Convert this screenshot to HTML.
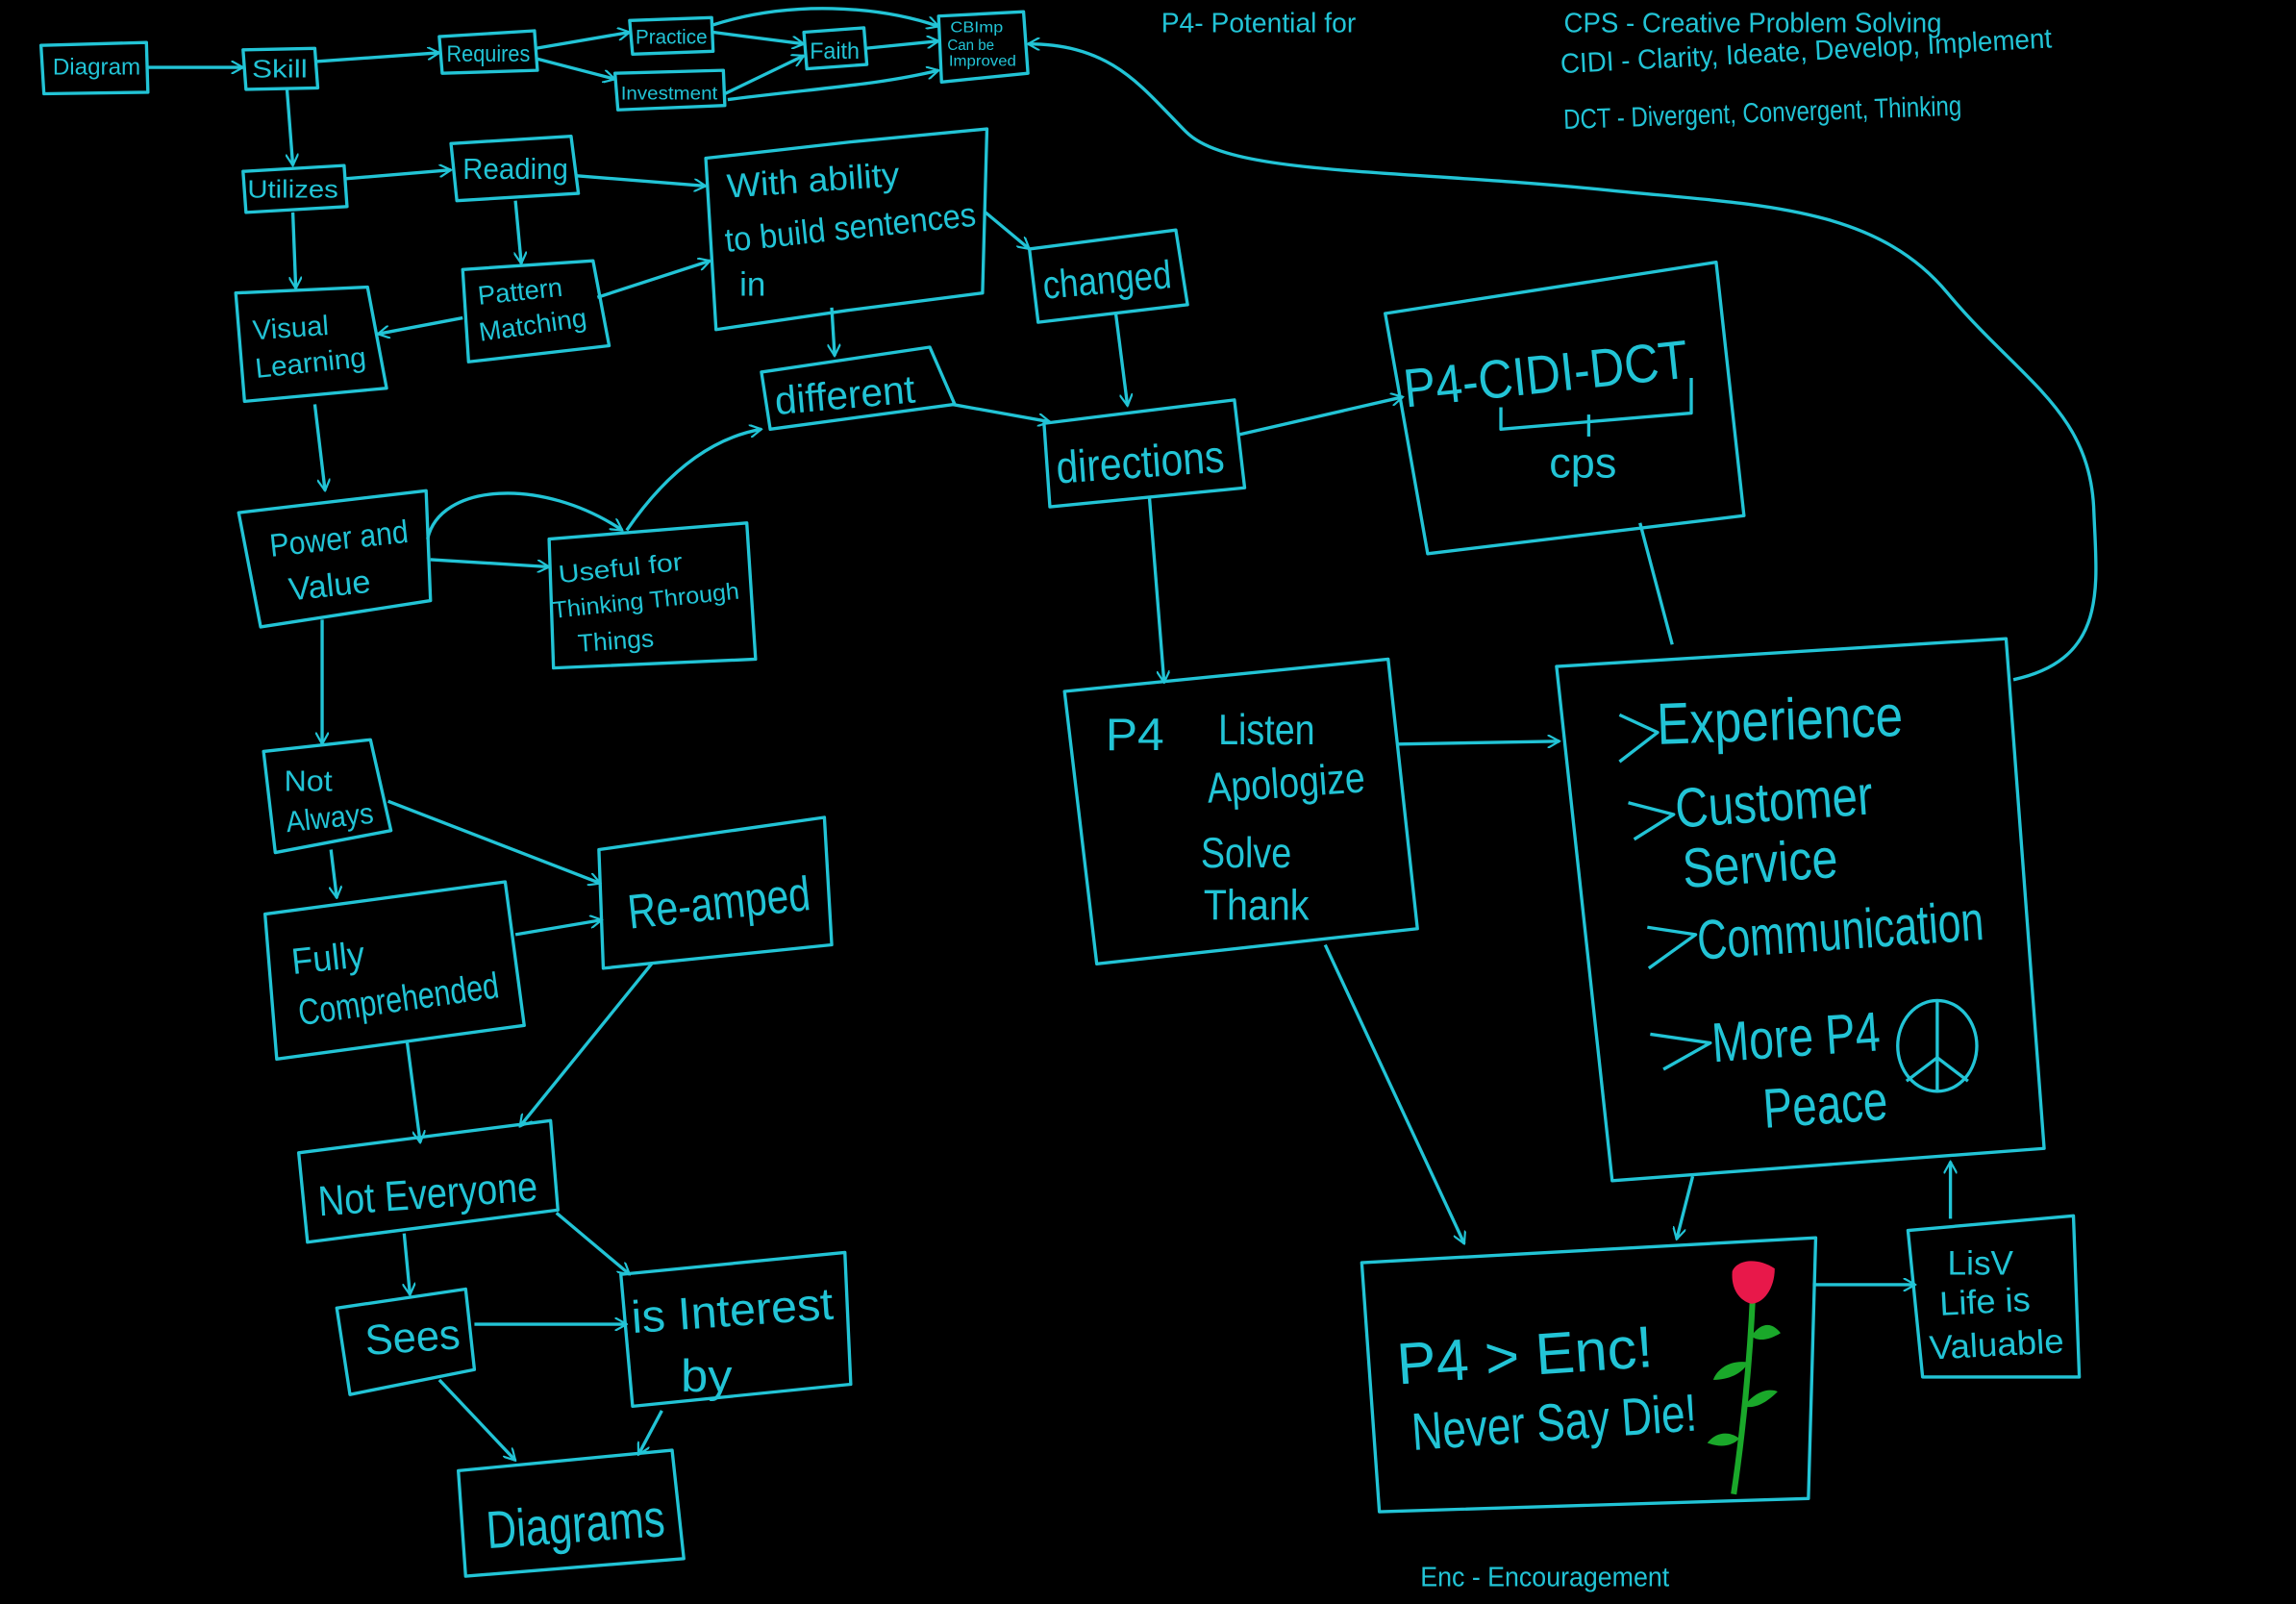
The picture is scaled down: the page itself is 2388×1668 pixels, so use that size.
<!DOCTYPE html>
<html><head><meta charset="utf-8">
<style>
html,body{margin:0;padding:0;background:#000;width:2388px;height:1668px;overflow:hidden}
svg{display:block}
text{font-family:"Liberation Sans",sans-serif;fill:#22c4d6}
</style></head><body>
<svg width="2388" height="1668" viewBox="0 0 1568 1095" preserveAspectRatio="none" xmlns="http://www.w3.org/2000/svg">
<defs>
<marker id="a" viewBox="0 0 10 10" refX="9" refY="5" markerWidth="9" markerHeight="9" orient="auto" markerUnits="userSpaceOnUse">
<path d="M0,0 L9,5 L0,10" fill="none" stroke="#22c4d6" stroke-width="1.6"/>
</marker>
</defs>
<rect width="1568" height="1095" fill="#000"/>
<g fill="none" stroke="#22c4d6" stroke-width="2.2" stroke-linejoin="round">
<polygon points="28,31 100,29 101,63 30,64"/>
<polygon points="166,34 215,33 217,60 168,61"/>
<polygon points="300,25 365,21 367,48 302,50"/>
<polygon points="430,14 486,12 487,35 432,37"/>
<polygon points="420,50 494,48 495,72 422,75"/>
<polygon points="549,22 590,19 592,44 551,47"/>
<polygon points="641,11 699,8 702,50 643,56"/>
<polygon points="166,117 235,113 237,141 168,145"/>
<polygon points="308,98 390,93 395,132 312,137"/>
<polygon points="482,108 580,97 674,88 671,200 578,212 489,225"/>
<polygon points="316,184 405,178 416,236 320,247"/>
<polygon points="161,200 251,196 264,265 167,274"/>
<polygon points="703,170 803,157 811,208 709,220"/>
<polygon points="520,254 635,237 652,276 526,293"/>
<polygon points="713,289 843,273 850,333 717,346"/>
<polygon points="946,214 1172,179 1191,352 975,378"/>
<polyline points="1025,278 1025,293 1155,282 1155,258"/>
<line x1="1085" y1="283" x2="1085" y2="298"/>
<polygon points="163,350 291,335 294,410 178,428"/>
<polygon points="375,368 510,357 516,450 378,456"/>
<polygon points="727,472 948,450 968,634 749,658"/>
<polygon points="1063,455 1370,436 1396,784 1101,806"/>
<polygon points="180,513 253,505 267,567 188,582"/>
<polygon points="409,580 563,558 568,645 412,661"/>
<polygon points="181,624 345,602 358,700 189,723"/>
<polygon points="204,787 376,765 381,826 210,848"/>
<polygon points="230,893 318,880 324,935 239,952"/>
<polygon points="424,870 577,855 581,945 432,960"/>
<polygon points="313,1004 459,990 467,1064 318,1076"/>
<polygon points="930,862 1240,845 1235,1023 942,1032"/>
<polygon points="1303,840 1416,830 1420,940 1313,940"/>
<g marker-end="url(#a)">
<line x1="101" y1="46" x2="166" y2="46"/>
<line x1="216" y1="42" x2="300" y2="36"/>
<line x1="366" y1="33" x2="430" y2="22"/>
<line x1="366" y1="40" x2="420" y2="54"/>
<line x1="487" y1="22" x2="549" y2="30"/>
<line x1="495" y1="64" x2="549" y2="38"/>
<path d="M487,17 C540,0 600,4 641,18"/>
<line x1="591" y1="33" x2="641" y2="28"/>
<path d="M497,68 C560,60 600,58 641,48"/>
<line x1="196" y1="61" x2="200" y2="113"/>
<line x1="236" y1="122" x2="308" y2="116"/>
<line x1="394" y1="120" x2="482" y2="127"/>
<line x1="352" y1="137" x2="356" y2="180"/>
<line x1="200" y1="145" x2="202" y2="197"/>
<line x1="316" y1="217" x2="258" y2="228"/>
<line x1="408" y1="203" x2="485" y2="178"/>
<line x1="673" y1="145" x2="703" y2="170"/>
<line x1="568" y1="210" x2="570" y2="243"/>
<line x1="762" y1="214" x2="770" y2="277"/>
<line x1="650" y1="276" x2="717" y2="288"/>
<line x1="845" y1="297" x2="958" y2="271"/>
<line x1="215" y1="276" x2="222" y2="335"/>
<line x1="294" y1="382" x2="375" y2="387"/>
<path d="M292,368 C300,330 370,325 425,362"/>
<path d="M428,362 C450,330 480,300 520,293"/>
<line x1="220" y1="423" x2="220" y2="508"/>
<line x1="785" y1="340" x2="795" y2="466"/>
<line x1="955" y1="508" x2="1065" y2="506"/>
<line x1="265" y1="547" x2="410" y2="603"/>
<line x1="226" y1="580" x2="230" y2="613"/>
<line x1="352" y1="638" x2="411" y2="628"/>
<line x1="445" y1="658" x2="355" y2="769"/>
<line x1="278" y1="711" x2="287" y2="780"/>
<line x1="276" y1="842" x2="280" y2="884"/>
<line x1="380" y1="828" x2="430" y2="870"/>
<line x1="324" y1="904" x2="428" y2="904"/>
<line x1="300" y1="942" x2="352" y2="997"/>
<line x1="452" y1="963" x2="436" y2="993"/>
<line x1="905" y1="645" x2="1000" y2="849"/>
<line x1="1156" y1="803" x2="1145" y2="846"/>
<line x1="1238" y1="877" x2="1308" y2="877"/>
<line x1="1332" y1="832" x2="1332" y2="793"/>
<path d="M1375,464 C1440,450 1432,400 1430,350 C1428,280 1380,260 1330,200 C1280,140 1200,140 1100,130 C950,115 840,120 810,90 C780,60 760,30 702,30"/>
</g>
<line x1="1120" y1="357" x2="1142" y2="440"/>
<ellipse cx="1323" cy="714" rx="27" ry="31"/>
<line x1="1323" y1="684" x2="1323" y2="745"/>
<line x1="1323" y1="722" x2="1302" y2="738"/>
<line x1="1323" y1="722" x2="1344" y2="738"/>
<polyline points="1106,488 1132,500 1106,520"/>
<polyline points="1112,548 1143,556 1116,573"/>
<polyline points="1125,633 1158,638 1126,661"/>
<polyline points="1127,706 1168,712 1136,730"/>
</g>
<g>
<path d="M1197,885 C1195,930 1190,980 1184,1020" stroke="#1aa82a" stroke-width="4" fill="none"/>
<path d="M1196,912 C1205,900 1212,905 1216,910 C1208,915 1200,916 1196,912Z" fill="#1aa82a"/>
<path d="M1194,930 C1180,928 1172,936 1170,942 C1180,942 1190,938 1194,930Z" fill="#1aa82a"/>
<path d="M1191,960 C1200,948 1210,948 1214,950 C1206,958 1198,962 1191,960Z" fill="#1aa82a"/>
<path d="M1188,982 C1178,975 1170,980 1166,985 C1174,988 1182,988 1188,982Z" fill="#1aa82a"/>
<path d="M1183,868 C1186,860 1200,858 1212,866 C1212,880 1204,890 1196,890 C1188,888 1182,880 1183,868Z" fill="#e8184a"/>
</g>
<g lengthAdjust="spacingAndGlyphs">
<text x="36" y="51" font-size="16" textLength="60" lengthAdjust="spacingAndGlyphs">Diagram</text>
<text x="172" y="53" font-size="17" textLength="38" lengthAdjust="spacingAndGlyphs">Skill</text>
<text x="305" y="42" font-size="16" textLength="57" lengthAdjust="spacingAndGlyphs">Requires</text>
<text x="434" y="30" font-size="14" textLength="49" lengthAdjust="spacingAndGlyphs">Practice</text>
<text x="424" y="68" font-size="13" textLength="66" lengthAdjust="spacingAndGlyphs">Investment</text>
<text x="553" y="40" font-size="16" textLength="34" lengthAdjust="spacingAndGlyphs">Faith</text>
<text x="649" y="22" font-size="10" textLength="36" lengthAdjust="spacingAndGlyphs">CBImp</text>
<text x="647" y="34" font-size="10" textLength="32" lengthAdjust="spacingAndGlyphs">Can be</text>
<text x="648" y="45" font-size="10" textLength="46" lengthAdjust="spacingAndGlyphs">Improved</text>
<text x="169" y="135" font-size="17" textLength="62" lengthAdjust="spacingAndGlyphs">Utilizes</text>
<text x="316" y="122" font-size="20" textLength="72" lengthAdjust="spacingAndGlyphs">Reading</text>
<text x="497" y="135" font-size="23" textLength="118" lengthAdjust="spacingAndGlyphs" transform="rotate(-4 497 135)">With ability</text>
<text x="496" y="172" font-size="23" textLength="172" lengthAdjust="spacingAndGlyphs" transform="rotate(-6 496 172)">to build sentences</text>
<text x="505" y="202" font-size="23">in</text>
<text x="327" y="208" font-size="18" textLength="58" lengthAdjust="spacingAndGlyphs" transform="rotate(-6 327 208)">Pattern</text>
<text x="328" y="233" font-size="18" textLength="74" lengthAdjust="spacingAndGlyphs" transform="rotate(-8 328 233)">Matching</text>
<text x="173" y="232" font-size="19" textLength="52" lengthAdjust="spacingAndGlyphs" transform="rotate(-4 173 232)">Visual</text>
<text x="175" y="258" font-size="19" textLength="76" lengthAdjust="spacingAndGlyphs" transform="rotate(-6 175 258)">Learning</text>
<text x="713" y="204" font-size="27" textLength="88" lengthAdjust="spacingAndGlyphs" transform="rotate(-5 713 204)">changed</text>
<text x="530" y="283" font-size="27" textLength="96" lengthAdjust="spacingAndGlyphs" transform="rotate(-5 530 283)">different</text>
<text x="722" y="330" font-size="31" textLength="115" lengthAdjust="spacingAndGlyphs" transform="rotate(-4 722 330)">directions</text>
<text x="960" y="278" font-size="37" textLength="195" lengthAdjust="spacingAndGlyphs" transform="rotate(-6 960 278)">P4-CIDI-DCT</text>
<text x="1058" y="326" font-size="29" textLength="46" lengthAdjust="spacingAndGlyphs">cps</text>
<text x="185" y="380" font-size="22" textLength="95" lengthAdjust="spacingAndGlyphs" transform="rotate(-6 185 380)">Power and</text>
<text x="198" y="410" font-size="22" textLength="56" lengthAdjust="spacingAndGlyphs" transform="rotate(-6 198 410)">Value</text>
<text x="382" y="398" font-size="17" textLength="85" lengthAdjust="spacingAndGlyphs" transform="rotate(-6 382 398)">Useful for</text>
<text x="378" y="422" font-size="16" textLength="128" lengthAdjust="spacingAndGlyphs" transform="rotate(-6 378 422)">Thinking Through</text>
<text x="395" y="445" font-size="17" textLength="52" lengthAdjust="spacingAndGlyphs" transform="rotate(-4 395 445)">Things</text>
<text x="755" y="512" font-size="31" textLength="40" lengthAdjust="spacingAndGlyphs">P4</text>
<text x="832" y="508" font-size="29" textLength="66" lengthAdjust="spacingAndGlyphs">Listen</text>
<text x="825" y="548" font-size="29" textLength="108" lengthAdjust="spacingAndGlyphs" transform="rotate(-4 825 548)">Apologize</text>
<text x="820" y="592" font-size="29" textLength="62" lengthAdjust="spacingAndGlyphs">Solve</text>
<text x="822" y="628" font-size="29" textLength="72" lengthAdjust="spacingAndGlyphs">Thank</text>
<text x="1132" y="508" font-size="40" textLength="168" lengthAdjust="spacingAndGlyphs" transform="rotate(-2 1132 508)">Experience</text>
<text x="1145" y="565" font-size="38" textLength="135" lengthAdjust="spacingAndGlyphs" transform="rotate(-4 1145 565)">Customer</text>
<text x="1150" y="606" font-size="38" textLength="106" lengthAdjust="spacingAndGlyphs" transform="rotate(-4 1150 606)">Service</text>
<text x="1160" y="655" font-size="38" textLength="196" lengthAdjust="spacingAndGlyphs" transform="rotate(-4 1160 655)">Communication</text>
<text x="1170" y="725" font-size="38" textLength="115" lengthAdjust="spacingAndGlyphs" transform="rotate(-4 1170 725)">More P4</text>
<text x="1205" y="770" font-size="38" textLength="85" lengthAdjust="spacingAndGlyphs" transform="rotate(-4 1205 770)">Peace</text>
<text x="194" y="540" font-size="20" textLength="33" lengthAdjust="spacingAndGlyphs">Not</text>
<text x="196" y="568" font-size="20" textLength="60" lengthAdjust="spacingAndGlyphs" transform="rotate(-6 196 568)">Always</text>
<text x="430" y="634" font-size="33" textLength="125" lengthAdjust="spacingAndGlyphs" transform="rotate(-6 430 634)">Re-amped</text>
<text x="200" y="665" font-size="25" textLength="50" lengthAdjust="spacingAndGlyphs" transform="rotate(-6 200 665)">Fully</text>
<text x="205" y="700" font-size="25" textLength="138" lengthAdjust="spacingAndGlyphs" transform="rotate(-8 205 700)">Comprehended</text>
<text x="218" y="830" font-size="29" textLength="150" lengthAdjust="spacingAndGlyphs" transform="rotate(-4 218 830)">Not Everyone</text>
<text x="250" y="925" font-size="29" textLength="65" lengthAdjust="spacingAndGlyphs" transform="rotate(-4 250 925)">Sees</text>
<text x="432" y="910" font-size="31" textLength="138" lengthAdjust="spacingAndGlyphs" transform="rotate(-4 432 910)">is Interest</text>
<text x="465" y="950" font-size="31" textLength="35" lengthAdjust="spacingAndGlyphs">by</text>
<text x="333" y="1057" font-size="36" textLength="122" lengthAdjust="spacingAndGlyphs" transform="rotate(-4 333 1057)">Diagrams</text>
<text x="955" y="945" font-size="40" textLength="175" lengthAdjust="spacingAndGlyphs" transform="rotate(-4 955 945)">P4 &gt; Enc!</text>
<text x="965" y="990" font-size="36" textLength="195" lengthAdjust="spacingAndGlyphs" transform="rotate(-4 965 990)">Never Say Die!</text>
<text x="1330" y="870" font-size="23" textLength="45" lengthAdjust="spacingAndGlyphs">LisV</text>
<text x="1325" y="898" font-size="23" textLength="62" lengthAdjust="spacingAndGlyphs" transform="rotate(-3 1325 898)">Life is</text>
<text x="1318" y="928" font-size="23" textLength="92" lengthAdjust="spacingAndGlyphs" transform="rotate(-3 1318 928)">Valuable</text>
<text x="793" y="22" font-size="19" textLength="133" lengthAdjust="spacingAndGlyphs">P4- Potential for</text>
<text x="1068" y="22" font-size="19" textLength="258" lengthAdjust="spacingAndGlyphs">CPS - Creative  Problem  Solving</text>
<text x="1066" y="50" font-size="19" textLength="336" lengthAdjust="spacingAndGlyphs" transform="rotate(-3 1066 50)">CIDI - Clarity, Ideate, Develop, Implement</text>
<text x="1068" y="88" font-size="19" textLength="272" lengthAdjust="spacingAndGlyphs" transform="rotate(-2 1068 88)">DCT - Divergent, Convergent, Thinking</text>
<text x="970" y="1083" font-size="19" textLength="170" lengthAdjust="spacingAndGlyphs">Enc - Encouragement</text>
</g>
</svg>
</body></html>
